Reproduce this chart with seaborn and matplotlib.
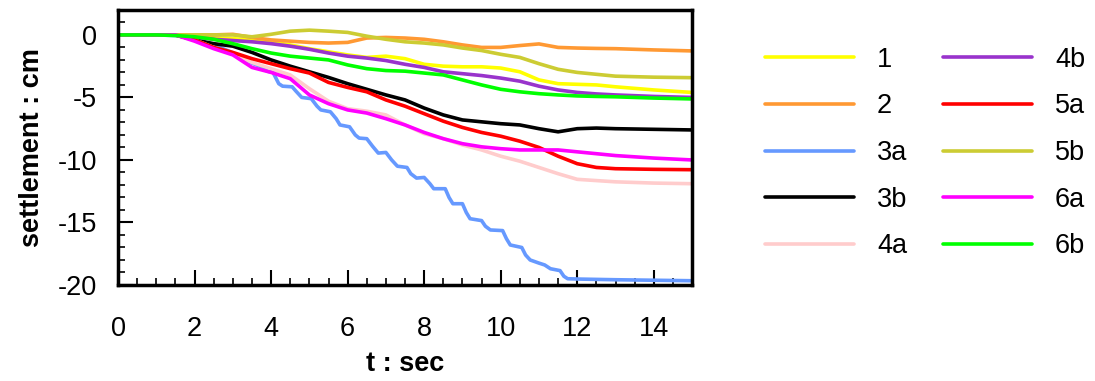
import numpy as np
import pandas as pd
import matplotlib
matplotlib.use("Agg")
import matplotlib.pyplot as plt
from matplotlib.ticker import MultipleLocator
import seaborn as sns

# settlement curves (cm)
t_std = [0, 1, 1.5, 2, 2.5, 3, 3.5, 4, 4.5, 5, 5.5, 6, 6.5, 7, 7.5, 8, 8.5,
         9, 9.5, 10, 10.5, 11, 11.5, 12, 12.5, 13, 14, 15]

s1 = [0, 0, -0.02, -0.1, -0.25, -0.3, -0.4, -0.55, -0.8, -1.1, -1.35, -1.6, -1.8, -1.7,
      -1.9, -2.35, -2.5, -2.55, -2.55, -2.65, -2.95, -3.6, -3.9, -3.95, -4.0, -4.15, -4.4, -4.6]
s2 = [0, 0, 0, 0, 0, 0.05, -0.2, -0.4, -0.5, -0.6, -0.65, -0.6, -0.25, -0.2,
      -0.25, -0.35, -0.55, -0.8, -1.0, -1.0, -0.85, -0.72, -1.0, -1.05, -1.08, -1.1, -1.2, -1.28]
s3b = [0, 0, 0, -0.4, -0.7, -0.9, -1.4, -2.0, -2.5, -2.95, -3.4, -3.9, -4.35, -4.8,
       -5.2, -5.85, -6.4, -6.8, -6.95, -7.1, -7.2, -7.5, -7.75, -7.5, -7.45, -7.5, -7.55, -7.6]
s4a = [0, 0, 0, -0.4, -1.0, -1.5, -2.2, -2.7, -3.2, -4.3, -5.3, -5.9, -6.1, -6.4,
       -7.2, -7.9, -8.3, -8.8, -9.2, -9.7, -10.1, -10.6, -11.1, -11.55, -11.65, -11.75, -11.85, -11.9]
s4b = [0, 0, 0, -0.15, -0.35, -0.45, -0.55, -0.7, -0.9, -1.15, -1.45, -1.7, -1.85, -2.05,
       -2.35, -2.6, -2.95, -3.1, -3.25, -3.45, -3.7, -4.1, -4.4, -4.6, -4.72, -4.8, -4.92, -5.0]
s5a = [0, 0, 0, -0.4, -1.0, -1.4, -1.9, -2.3, -2.7, -3.05, -3.8, -4.2, -4.55, -5.2,
       -5.7, -6.3, -6.9, -7.4, -7.8, -8.1, -8.5, -9.0, -9.7, -10.3, -10.6, -10.7, -10.75, -10.78]
s5b = [0, 0, 0, 0, 0, 0, -0.15, 0.05, 0.3, 0.38, 0.3, 0.2, -0.1, -0.35,
       -0.55, -0.65, -0.8, -1.05, -1.25, -1.55, -1.8, -2.3, -2.75, -3.0, -3.15, -3.3, -3.38, -3.42]
s6a = [0, 0, 0, -0.5, -1.1, -1.6, -2.6, -3.0, -3.5, -4.8, -5.5, -6.0, -6.25, -6.7,
       -7.2, -7.8, -8.3, -8.7, -8.95, -9.1, -9.2, -9.2, -9.2, -9.35, -9.5, -9.65, -9.85, -10.0]
s6b = [0, 0, -0.05, -0.15, -0.35, -0.7, -1.1, -1.45, -1.7, -1.85, -2.0, -2.4, -2.7, -2.85,
       -2.9, -3.05, -3.2, -3.6, -4.0, -4.35, -4.55, -4.7, -4.8, -4.88, -4.92, -4.95, -5.05, -5.12]

# 3a has a stepped shape, so it gets its own time axis
t_3a = [0, 1.0, 1.5, 2.0, 2.5, 2.9, 3.2, 3.45, 3.7, 3.9, 4.05, 4.2, 4.3, 4.55, 4.65, 4.8,
        5.05, 5.2, 5.3, 5.55, 5.7, 5.8, 6.05, 6.2, 6.3, 6.5, 6.65, 6.8, 7.0, 7.15, 7.3,
        7.55, 7.65, 7.8, 8.0, 8.15, 8.25, 8.55, 8.65, 8.75, 9.0, 9.1, 9.2, 9.5, 9.6, 9.73,
        10.05, 10.15, 10.25, 10.55, 10.65, 10.77, 11.0, 11.15, 11.3, 11.55, 11.65, 11.75,
        12.1, 13, 14, 15]
s3a = [0, 0, -0.05, -0.3, -0.8, -1.3, -1.7, -2.2, -2.5, -2.9, -3.0, -3.9, -4.1, -4.15, -4.5, -5.0,
       -5.1, -5.7, -6.0, -6.15, -6.7, -7.2, -7.35, -8.0, -8.25, -8.3, -8.9, -9.45, -9.4, -10.0, -10.5,
       -10.6, -11.1, -11.45, -11.4, -11.9, -12.3, -12.3, -13.0, -13.5, -13.5, -14.2, -14.7, -14.85, -15.3, -15.6,
       -15.65, -16.3, -16.8, -17.0, -17.6, -18.0, -18.25, -18.4, -18.7, -18.85, -19.3, -19.5,
       -19.53, -19.58, -19.62, -19.66]

names = ['1', '2', '3a', '3b', '4a', '4b', '5a', '5b', '6a', '6b']
colors = ['#FFFF00', '#FF9933', '#6699FF', '#000000', '#FFCCCC',
          '#9933CC', '#FF0000', '#CCCC33', '#FF00FF', '#00FF00']

series = {'1': (t_std, s1), '2': (t_std, s2), '3a': (t_3a, s3a), '3b': (t_std, s3b),
          '4a': (t_std, s4a), '4b': (t_std, s4b), '5a': (t_std, s5a), '5b': (t_std, s5b),
          '6a': (t_std, s6a), '6b': (t_std, s6b)}

frames = []
for n in names:
    tt, ss = series[n]
    frames.append(pd.DataFrame({'t': tt, 's': ss, 'case': n}))
df = pd.concat(frames, ignore_index=True)

sns.set_style("white")
plt.rcParams['font.family'] = ['Liberation Sans', 'DejaVu Sans']
plt.rcParams['axes.unicode_minus'] = False
plt.rcParams['text.color'] = 'black'
plt.rcParams['axes.labelcolor'] = 'black'
plt.rcParams['xtick.color'] = 'black'
plt.rcParams['ytick.color'] = 'black'

FS = 19.5

fig = plt.figure(figsize=(10.95, 3.81), dpi=100)
ax = fig.add_axes([0.1078, 0.252, 0.5242, 0.722])

sns.lineplot(data=df, x='t', y='s', hue='case', hue_order=names,
             palette=dict(zip(names, colors)), estimator=None, sort=True,
             linewidth=2.6, ax=ax)

ax.set_xlim(0, 15)
ax.set_ylim(-20, 2)
ax.xaxis.set_major_locator(MultipleLocator(2))
ax.xaxis.set_minor_locator(MultipleLocator(0.5))
ax.yaxis.set_major_locator(MultipleLocator(5))
ax.yaxis.set_minor_locator(MultipleLocator(1))
ax.tick_params(which='both', direction='in', labelsize=FS,
               bottom=True, left=True, top=False, right=False)
ax.tick_params(which='major', length=11, width=1.5)
ax.tick_params(which='minor', length=5, width=1.2)
ax.tick_params(axis='x', which='major', pad=22)
ax.tick_params(axis='y', which='major', pad=15)
for sp in ax.spines.values():
    sp.set_linewidth(2.5)
    sp.set_color('black')

ax.set_xlabel('t : sec', fontsize=FS, fontweight='bold', labelpad=7)
ax.set_ylabel('settlement : cm', fontsize=FS, fontweight='bold', labelpad=9)

handles, labels = ax.get_legend_handles_labels()
ax.get_legend().remove()
fig.legend(handles, labels, ncol=2, loc='upper left', bbox_to_anchor=(0.676, 0.941),
           frameon=False, fontsize=FS, handlelength=3.3, handletextpad=0.85,
           columnspacing=1.3, labelspacing=0.76)

fig.savefig('out.png', dpi=100)
